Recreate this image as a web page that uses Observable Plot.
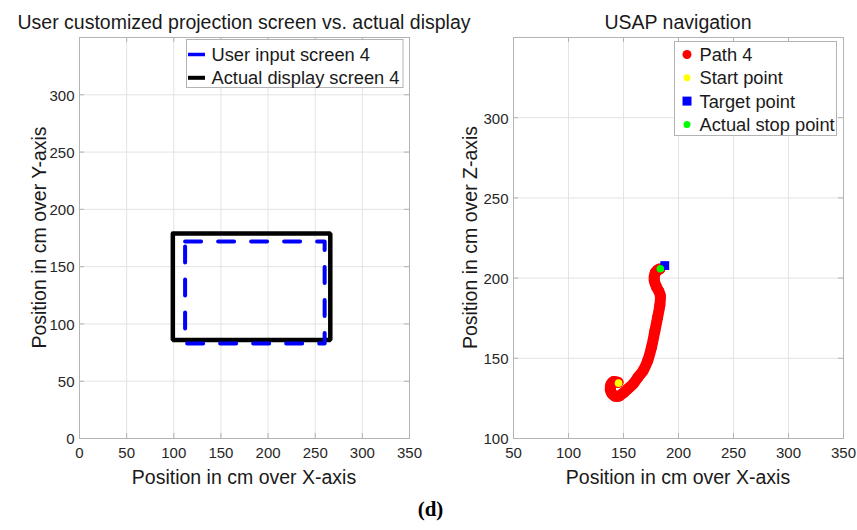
<!DOCTYPE html>
<html>
<head>
<meta charset="utf-8">
<script src="https://cdn.jsdelivr.net/npm/d3@7"></script>
<script src="https://cdn.jsdelivr.net/npm/@observablehq/plot@0.6"></script>
<style>
  html, body { margin: 0; padding: 0; background: #fff; }
  #wrap { position: relative; width: 857px; height: 530px; background: #fff; font-family: "Liberation Sans", Arial, sans-serif; }
  #wrap > svg, #wrap > div { position: absolute; }
  #overlay { left: 0; top: 0; pointer-events: none; }
</style>
</head>
<body>
<div id="wrap"></div>
<script>
// ---------- data ----------
// Left panel: projection screen rectangles (corners, cm)
const userInputX = [112, 260, 260, 112, 112];
const userInputY = [172, 172, 83, 83, 172];
const actualDisplayX = [99, 266, 266, 99, 99];
const actualDisplayY = [179, 179, 86, 86, 179];
const leftXTicks = [0, 50, 100, 150, 200, 250, 300, 350];
const leftYTicks = [0, 50, 100, 150, 200, 250, 300];
const leftXDomain = [0, 350];
const leftYDomain = [0, 350];

// Right panel: USAP navigation path (X, Z in cm)
const pathX = [145, 141, 138.5, 138, 139.5, 142, 146, 150, 154, 158.8, 163, 168, 172, 175.5, 178.5, 181, 183, 183.5, 182, 180, 178, 178, 179, 181, 183];
const pathZ = [135, 135.5, 133.5, 130.5, 128, 126.5, 126.5, 128.5, 131, 134, 138, 142.5, 148.5, 157, 167, 175.5, 183, 189, 192, 194.5, 198.5, 201, 203.5, 205, 205.7];
const startPoint = [{x: 145.5, z: 134.5}];
const targetPoint = [{x: 187.5, z: 207.8}];
const stopPoint = [{x: 183.5, z: 205.8}];
const rightXTicks = [50, 100, 150, 200, 250, 300, 350];
const rightYTicks = [100, 150, 200, 250, 300];
const rightXDomain = [50, 350];
const rightYDomain = [100, 350];

// text
const leftTitle = "User customized projection screen vs. actual display";
const rightTitle = "USAP navigation";
const xLabel = "Position in cm over X-axis";
const leftYLabel = "Position in cm over Y-axis";
const rightYLabel = "Position in cm over Z-axis";
const leftLegend = ["User input screen 4", "Actual display screen 4"];
const rightLegend = ["Path 4", "Start point", "Target point", "Actual stop point"];
const panelTag = "(d)";

// ---------- helpers ----------
const FONT = "Liberation Sans, Arial, sans-serif";
const gridColor = "#e3e3e3";
const frameColor = "#b3b3b3";
const tickFont = 15;

function axisMarks(xTicks, yTicks, frameH, frameW) {
  return [
    Plot.gridX(xTicks, {stroke: gridColor, strokeOpacity: 1, strokeWidth: 1}),
    Plot.gridY(yTicks, {stroke: gridColor, strokeOpacity: 1, strokeWidth: 1}),
    // inward ticks (bottom, top, left, right)
    Plot.ruleX(xTicks, {x: d => d, insetTop: frameH - 5, stroke: frameColor}),
    Plot.ruleX(xTicks, {x: d => d, insetBottom: frameH - 5, stroke: frameColor}),
    Plot.ruleY(yTicks, {y: d => d, insetRight: frameW - 5, stroke: frameColor}),
    Plot.ruleY(yTicks, {y: d => d, insetLeft: frameW - 5, stroke: frameColor}),
    Plot.frame({stroke: frameColor, strokeWidth: 1}),
    Plot.axisX(xTicks, {tickSize: 0, tickPadding: 9, fontSize: tickFont, fill: "#262626", label: null, tickFormat: d => String(d)}),
    Plot.axisY(yTicks, {tickSize: 0, tickPadding: 5, fontSize: tickFont, fill: "#262626", label: null, tickFormat: d => String(d), dy: 1})
  ];
}

const wrap = document.getElementById("wrap");

// ---------- left plot ----------
const L = {w: 430, h: 530, ml: 79, mr: 21, mt: 37, mb: 92};
const leftRectUser = userInputX.map((x, i) => ({x, y: userInputY[i]}));
const leftRectActual = actualDisplayX.map((x, i) => ({x, y: actualDisplayY[i]}));
const leftPlot = Plot.plot({
  width: L.w, height: L.h,
  marginLeft: L.ml, marginRight: L.mr, marginTop: L.mt, marginBottom: L.mb,
  style: {fontFamily: FONT, background: "transparent", overflow: "visible"},
  x: {domain: leftXDomain, axis: null},
  y: {domain: leftYDomain, axis: null},
  marks: [
    ...axisMarks(leftXTicks, leftYTicks, L.h - L.mt - L.mb, L.w - L.ml - L.mr),
    Plot.line(leftRectActual, {x: "x", y: "y", stroke: "black", strokeWidth: 4.5, strokeLinejoin: "miter"}),
    Plot.line(leftRectUser, {x: "x", y: "y", stroke: "#0000ff", strokeWidth: 4, strokeDasharray: "16,17"})
  ]
});
leftPlot.style.left = "0px"; leftPlot.style.top = "0px";
wrap.appendChild(leftPlot);

// ---------- right plot ----------
const R = {x0: 430, w: 427, h: 530, ml: 83, mr: 14, mt: 37, mb: 92};
const pathData = pathX.map((x, i) => ({x, z: pathZ[i]}));
const rightPlot = Plot.plot({
  width: R.w, height: R.h,
  marginLeft: R.ml, marginRight: R.mr, marginTop: R.mt, marginBottom: R.mb,
  style: {fontFamily: FONT, background: "transparent", overflow: "visible"},
  x: {domain: rightXDomain, axis: null},
  y: {domain: rightYDomain, axis: null},
  marks: [
    ...axisMarks(rightXTicks, rightYTicks, R.h - R.mt - R.mb, R.w - R.ml - R.mr),
    Plot.line(pathData, {x: "x", y: "z", stroke: "#ff0000", strokeWidth: 11, strokeLinecap: "round", strokeLinejoin: "round", curve: "catmull-rom"}),
    Plot.dot(pathData, {x: "x", y: "z", r: 5.5, fill: "#ff0000", stroke: "none"}),
    Plot.dot(startPoint, {x: "x", y: "z", r: 3.8, fill: "#ffff00", stroke: "none"}),
    Plot.dot(targetPoint, {x: "x", y: "z", symbol: "square", r: 5, fill: "#0000ff", stroke: "none"}),
    Plot.dot(stopPoint, {x: "x", y: "z", r: 3.8, fill: "#00ff00", stroke: "none"})
  ]
});
rightPlot.style.left = R.x0 + "px"; rightPlot.style.top = "0px";
wrap.appendChild(rightPlot);

// ---------- overlay: titles, labels, legends ----------
const svg = d3.select(wrap).append("svg")
  .attr("id", "overlay").attr("width", 857).attr("height", 530)
  .style("font-family", FONT);

const textFill = "#1a1a1a";
const labelSize = 19.5;
// titles
svg.append("text").attr("x", 244).attr("y", 28.5).attr("text-anchor", "middle")
  .attr("font-size", labelSize).attr("fill", textFill).text(leftTitle);
svg.append("text").attr("x", R.x0 + R.ml + (R.w - R.ml - R.mr) / 2).attr("y", 28.5).attr("text-anchor", "middle")
  .attr("font-size", labelSize).attr("fill", textFill).text(rightTitle);
// x labels
svg.append("text").attr("x", 244).attr("y", 483.5).attr("text-anchor", "middle")
  .attr("font-size", labelSize).attr("fill", textFill).text(xLabel);
svg.append("text").attr("x", R.x0 + R.ml + (R.w - R.ml - R.mr) / 2).attr("y", 483.5).attr("text-anchor", "middle")
  .attr("font-size", labelSize).attr("fill", textFill).text(xLabel);
// y labels
svg.append("text").attr("transform", "translate(46,237.5) rotate(-90)").attr("text-anchor", "middle")
  .attr("font-size", labelSize).attr("fill", textFill).text(leftYLabel);
svg.append("text").attr("transform", "translate(477,237.5) rotate(-90)").attr("text-anchor", "middle")
  .attr("font-size", labelSize).attr("fill", textFill).text(rightYLabel);

// left legend
const lg = svg.append("g");
lg.append("rect").attr("x", 186.5).attr("y", 39.5).attr("width", 216.5).attr("height", 48)
  .attr("fill", "#fff").attr("stroke", "#b3b3b3").attr("stroke-width", 1);
const legendSize = 18.3;
const leftLegendStyles = [{stroke: "#0000ff", w: 3.5}, {stroke: "#000", w: 4}];
leftLegend.forEach((t, i) => {
  const cy = 54.5 + i * 23.3;
  lg.append("line").attr("x1", 188).attr("x2", 205).attr("y1", cy).attr("y2", cy)
    .attr("stroke", leftLegendStyles[i].stroke).attr("stroke-width", leftLegendStyles[i].w);
  lg.append("text").attr("x", 211.5).attr("y", cy + 6.6).attr("font-size", legendSize).attr("fill", textFill).text(t);
});

// right legend
const rg = svg.append("g");
rg.append("rect").attr("x", 674.5).attr("y", 41.5).attr("width", 162).attr("height", 94)
  .attr("fill", "#fff").attr("stroke", "#b3b3b3").attr("stroke-width", 1);
const markerFills = ["#ff0000", "#ffff00", "#0000ff", "#00ff00"];
rightLegend.forEach((t, i) => {
  const cy = 54.5 + i * 23.3;
  if (i === 2) {
    rg.append("rect").attr("x", 682.5).attr("y", cy - 4.5).attr("width", 9).attr("height", 9).attr("fill", markerFills[i]);
  } else {
    rg.append("circle").attr("cx", 687).attr("cy", cy).attr("r", i === 0 ? 4.5 : 3.5).attr("fill", markerFills[i]);
  }
  rg.append("text").attr("x", 699.5).attr("y", cy + 6.6).attr("font-size", legendSize).attr("fill", textFill).text(t);
});

// panel tag
svg.append("text").attr("x", 430.5).attr("y", 515.5).attr("text-anchor", "middle")
  .attr("font-family", "Liberation Serif, Times New Roman, serif").attr("font-weight", "bold")
  .attr("font-size", 21).attr("fill", "#000").text(panelTag);
</script>
</body>
</html>
